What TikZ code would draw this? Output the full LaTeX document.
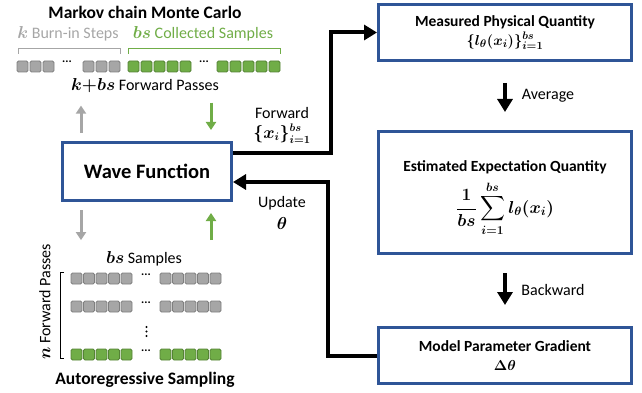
\documentclass[tikz,border=0pt]{standalone}
\usepackage{amsmath}
\usepackage{bm}
\usepackage{fontspec}
\setmainfont{Carlito}
\usetikzlibrary{arrows.meta}
\definecolor{boxblue}{HTML}{2F5597}
\definecolor{sqgray}{HTML}{A6A6A6}
\definecolor{sqgrayd}{HTML}{7F7F7F}
\definecolor{sqgreen}{HTML}{70AD47}
\definecolor{sqgreend}{HTML}{548235}
\tikzset{
  qbox/.style={draw=boxblue, line width=3pt, minimum width=253pt, align=center,
    font=\fontsize{15.5}{22}\selectfont\bfseries\boldmath},
  bigarrow/.style={line width=4pt, -{Triangle[length=13pt,width=15pt]}},
  grayarrow/.style={draw=sqgray, line width=3pt, -{Triangle[length=8pt,width=10pt]}},
  greenarrow/.style={draw=sqgreen, line width=3pt, -{Triangle[length=8pt,width=10pt]}},
  graysq/.style={fill=sqgray, draw=sqgrayd, line width=0.8pt, rounded corners=1.5pt},
  greensq/.style={fill=sqgreen, draw=sqgreend, line width=0.8pt, rounded corners=1.5pt},
  lbl/.style={font=\fontsize{16}{18}\selectfont},
  dotlbl/.style={font=\fontsize{12}{12}\selectfont\bfseries, inner sep=0pt}
}

\begin{document}
\begin{tikzpicture}[x=1pt,y=-1pt]
  \useasboundingbox (0,0) rectangle (642,393);

  % Markov chain Monte Carlo
  \node[font=\fontsize{17.5}{20}\selectfont\bfseries] (mcmc) at (145,12) {Markov chain Monte Carlo};
  \node[lbl, text=sqgray] (burn) at (68,34) {$\bm{k}$ Burn-in Steps};
  \node[lbl, text=sqgreen] (collect) at (203,34) {$\bm{bs}$ Collected Samples};
  \draw[sqgray, line width=0.8pt] (18,54) -- (18,48) -- (120,48) -- (120,54);
  \draw[sqgreen, line width=0.8pt] (128,54) -- (128,48) -- (280,48) -- (280,54);
  \foreach \x in {17,30,43,83,96,109} {%
    \draw[graysq] (\x,61) rectangle ++(11,11);
  }
  \foreach \x in {128,141,154,167,180,217,230,243,256,269} {%
    \draw[greensq] (\x,61) rectangle ++(11,11);
  }
  \node[dotlbl] (gdots) at (67,62) {...};
  \node[dotlbl] (cdots) at (204,62) {...};
  \node[lbl] (passes) at (145,86) {$\bm{k{+}bs}$ Forward Passes};

  % wave function
  \node[draw=boxblue, line width=3pt, minimum width=169pt, minimum height=58pt,
    font=\fontsize{20.5}{22}\selectfont\bfseries] (wave) at (147,171.5) {Wave Function};
  \coordinate (gx) at (81,0);
  \coordinate (cx) at (211,0);

  % Autoregressive sampling
  \node[lbl] (samples) at (144,259) {$\bm{bs}$ Samples};
  \foreach \i in {0,...,4} {%
    \draw[graysq] (71+12.5*\i,273) rectangle ++(11,11);
    \draw[graysq] (160+12.5*\i,273) rectangle ++(11,11);
    \draw[graysq] (71+12.5*\i,301) rectangle ++(11,11);
    \draw[graysq] (160+12.5*\i,301) rectangle ++(11,11);
    \draw[greensq] (71+12.5*\i,349) rectangle ++(11,11);
    \draw[greensq] (160+12.5*\i,349) rectangle ++(11,11);
  }
  \node[dotlbl] (rdots1) at (146,275) {...};
  \node[dotlbl] (rdots2) at (146,303) {...};
  \node[dotlbl] (rdots3) at (146,351) {...};
  \foreach \y in {327,331.5,336} {%
    \fill (146.5,\y) circle (1.1);
  }
  \draw[line width=0.8pt] (64,272) -- (60,272) -- (60,358) -- (64,358);
  \node[lbl, rotate=90] (npass) at (45,302) {$\bm{n}$ Forward Passes};
  \node[font=\fontsize{17.5}{20}\selectfont\bfseries] (ar) at (145,380) {Autoregressive Sampling};

  \draw[grayarrow, shorten <=8pt, shorten >=9pt] (wave.north -| gx) -- (passes.south -| gx);
  \draw[greenarrow, shorten <=6pt, shorten >=11pt] (passes.south -| cx) -- (wave.north -| cx);
  \draw[grayarrow, shorten <=8pt, shorten >=8pt] (wave.south -| gx) -- (samples.north -| gx);
  \draw[greenarrow, shorten <=8pt, shorten >=11pt] (samples.north -| cx) -- (wave.south -| cx);

  % right column
  \node[qbox, minimum height=56pt] (measured) at (505,32.5)
    {Measured Physical Quantity\\[-3pt] $\{l_\theta(x_i)\}_{i=1}^{bs}$};
  \node[qbox, minimum height=122pt] (estimated) at (505,192.5)
    {\mbox{}\\Estimated Expectation Quantity\\[7pt]
     {\fontsize{18}{20}\selectfont $\displaystyle\frac{1}{bs}\sum_{i=1}^{bs}l_\theta(x_i)$}};
  \node[qbox, minimum height=56pt] (model) at (505,355.5)
    {Model Parameter Gradient\\[-3pt] $\Delta\theta$};

  \draw[bigarrow, shorten <=21pt, shorten >=18pt] (measured) -- (estimated);
  \draw[bigarrow, shorten <=18pt, shorten >=21pt] (estimated) -- (model);
  \node[lbl] (avg) at (548,96) {Average};
  \node[lbl] (bwd) at (553,290) {Backward};

  \draw[bigarrow] ([yshift=18.5pt]wave.east) -- ++(98,0) |- (measured.west);
  \draw[bigarrow] (model.west) -- ++(-49,0) |- ([yshift=-10.5pt]wave.east);
  \node[lbl] (fwd) at (282,113) {Forward};
  \node[lbl, font=\fontsize{16}{18}\selectfont\boldmath] (xset) at (282,134) {$\{x_i\}_{i=1}^{bs}$};
  \node[lbl] (upd) at (282,203) {Update};
  \node[lbl] (theta) at (282,223) {$\bm{\theta}$};
\end{tikzpicture}
\end{document}
